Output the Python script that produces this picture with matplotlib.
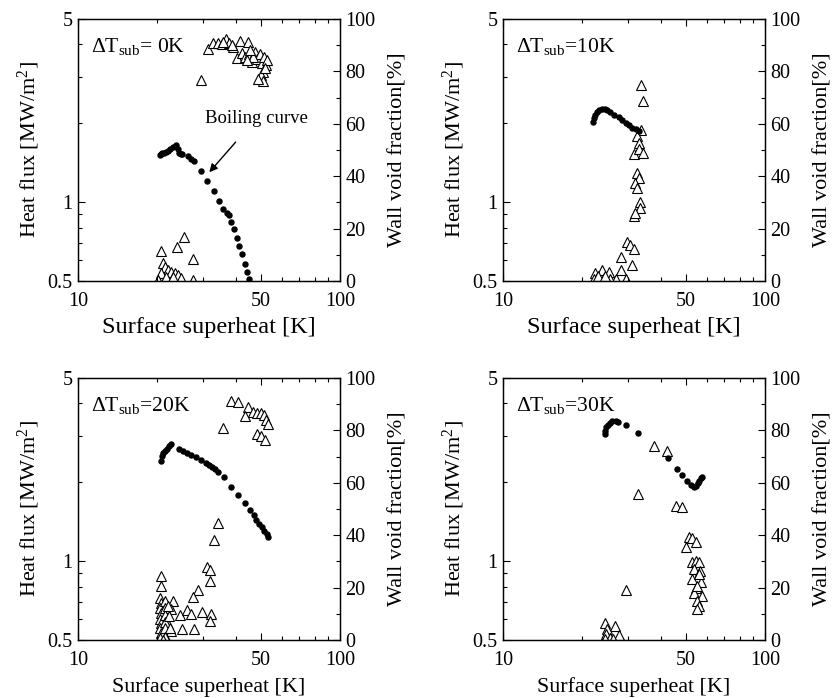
import matplotlib
matplotlib.use("Agg")
import matplotlib.pyplot as plt
from matplotlib.ticker import FixedLocator, NullFormatter

plt.rcParams['font.family'] = ['Liberation Serif', 'DejaVu Serif']
plt.rcParams['mathtext.fontset'] = 'custom'
plt.rcParams['mathtext.rm'] = 'Liberation Serif'
plt.rcParams['mathtext.it'] = 'Liberation Serif:italic'

# boiling curves: surface superheat [K] vs heat flux [MW/m2]
sub0_sh = [20.5, 20.8, 21.0, 21.3, 21.7, 22.0, 22.4, 23.1, 23.7, 24.1, 24.4, 24.8,
           25.0, 26.3, 27.1, 27.7, 29.6, 31.2, 33.0, 34.5, 35.8, 36.9, 37.6, 38.3,
           39.4, 40.4, 41.3, 42.3, 43.3, 44.2, 44.9]
sub0_q = [1.51, 1.53, 1.54, 1.54, 1.56, 1.57, 1.59, 1.63, 1.65, 1.60, 1.54, 1.52,
          1.53, 1.50, 1.46, 1.44, 1.31, 1.20, 1.10, 1.01, 0.94, 0.906, 0.893, 0.841,
          0.787, 0.728, 0.680, 0.632, 0.579, 0.543, 0.507]

sub10_sh = [22.1, 22.2, 22.5, 22.9, 23.3, 23.9, 24.5, 25.0, 25.7, 26.5, 27.7, 28.5,
            29.4, 30.2, 31.1, 32.1, 33.0]
sub10_q = [2.03, 2.09, 2.15, 2.20, 2.24, 2.26, 2.27, 2.25, 2.20, 2.15, 2.12, 2.06,
           2.01, 1.97, 1.92, 1.90, 1.87]

sub20_sh = [20.8, 20.9, 21.1, 21.4, 21.8, 22.2, 22.7, 24.3, 25.2, 26.1, 27.1, 28.3,
            29.6, 30.9, 31.6, 32.4, 33.3, 34.3, 36.2, 38.5, 40.9, 43.3, 45.3, 46.9,
            48.0, 48.9, 50.2, 51.2, 52.5, 53.3]
sub20_q = [2.41, 2.51, 2.58, 2.64, 2.68, 2.74, 2.79, 2.68, 2.64, 2.58, 2.54, 2.49,
           2.43, 2.36, 2.33, 2.29, 2.24, 2.18, 2.10, 1.92, 1.79, 1.66, 1.57, 1.50,
           1.43, 1.39, 1.35, 1.30, 1.27, 1.24]

sub30_sh = [24.5, 24.6, 24.8, 25.1, 25.6, 26.1, 26.9, 27.5, 29.4, 32.8, 42.5, 46.0,
            48.4, 50.6, 52.2, 53.7, 54.5, 55.3, 56.0, 56.8, 57.7]
sub30_q = [3.05, 3.15, 3.24, 3.31, 3.38, 3.42, 3.43, 3.40, 3.31, 3.08, 2.47, 2.25,
           2.13, 2.03, 1.95, 1.92, 1.94, 1.98, 2.03, 2.07, 2.09]

# wall void fraction [%]
sub0_vsh = [29.6, 31.4, 32.8, 34.3, 35.3, 36.7, 37.8, 39.1, 41.5, 44.6, 40.3, 42.1,
            43.3, 45.0, 46.0, 47.3, 48.1, 49.5, 50.2, 51.3, 52.2, 50.9, 49.8, 50.9,
            48.7, 52.5, 51.7, 46.7, 44.3, 45.3, 38.6, 35.8,
            25.4, 23.9, 20.8, 27.4, 21.1, 21.4, 22.1, 22.7, 23.4, 24.1, 24.8, 27.4,
            20.5, 20.8, 20.2, 21.7, 23.1]
sub0_void = [76.7, 88.4, 90.7, 91.0, 90.5, 92.2, 90.7, 89.4, 91.7, 91.3, 85.0, 86.9,
             85.4, 86.6, 83.7, 87.5, 84.6, 86.6, 83.1, 85.6, 82.4, 79.9, 78.6, 76.5,
             77.0, 84.4, 81.2, 85.6, 84.4, 88.2, 90.1, 91.3,
             16.9, 12.9, 11.6, 8.3, 6.8, 5.5, 4.2, 3.5, 2.9, 2.3, 1.0, 0.4,
             1.0, 2.9, 0.4, 1.6, 1.4]

sub10_vsh = [33.6, 34.3, 33.6, 32.6, 33.1, 31.6, 33.1, 34.1, 32.6, 33.1, 32.0, 32.6,
             33.2, 33.2, 31.6, 32.0, 29.8, 30.6, 31.6, 28.1, 31.2, 28.1, 29.4,
             23.9, 25.4, 22.5, 27.0, 22.9, 24.2, 22.2, 25.7, 23.0, 24.6]
sub10_void = [74.8, 68.7, 57.6, 55.3, 52.5, 48.5, 50.3, 48.7, 41.1, 39.2, 37.5, 35.4,
              30.3, 27.7, 24.8, 26.1, 15.0, 13.7, 12.1, 9.3, 6.1, 4.2, 0.6,
              4.2, 3.5, 2.9, 0.6, 1.0, 1.0, 0.6, 0.6, 2.0, 1.8]

sub20_vsh = [35.8, 38.3, 40.9, 44.6, 43.3, 46.6, 48.1, 49.9, 51.2, 52.2, 53.2, 48.1,
             49.9, 51.8, 34.3, 33.1,
             31.0, 31.8, 31.9, 20.8, 20.8, 28.8, 27.4, 23.1, 22.7, 24.5, 26.1, 27.1,
             29.8, 32.1, 31.8, 25.0, 27.7, 22.7, 22.1, 21.7,
             20.5, 20.7, 20.5, 20.8, 20.5, 20.8, 20.5, 20.8, 20.5, 21.4, 21.4, 21.4,
             21.4, 21.4, 21.4, 22.1, 22.2, 22.4, 21.1]
sub20_void = [81.1, 91.1, 90.8, 89.1, 85.6, 87.0, 86.8, 86.6, 86.0, 84.0, 82.4, 78.5,
              77.7, 76.4, 44.8, 38.1,
              27.7, 26.7, 22.6, 24.5, 20.7, 19.0, 16.5, 14.7, 11.8, 9.6, 11.4, 10.1,
              10.5, 9.8, 7.3, 4.1, 4.1, 3.4, 6.0, 0.9,
              16.0, 14.0, 12.1, 10.2, 8.2, 6.3, 4.4, 2.5, 0.6, 14.7, 12.1, 9.6,
              7.0, 4.4, 1.3, 12.8, 9.0, 4.4, 0.0]

sub30_vsh = [37.8, 42.2, 32.8, 45.9, 48.4, 29.4,
             49.9, 51.3, 52.8, 54.4, 52.8, 54.4, 56.1, 53.5, 56.5, 52.8, 56.9, 54.4,
             53.5, 57.7, 55.2, 56.1, 55.2, 56.1, 55.2,
             24.5, 26.8, 25.0, 27.6, 24.8, 25.7, 24.6, 26.3]
sub30_void = [74.2, 72.2, 55.9, 51.2, 50.6, 18.9,
              35.4, 39.2, 39.0, 37.3, 29.6, 30.3, 29.6, 27.1, 26.4, 23.3, 22.0, 20.0,
              18.1, 16.9, 14.9, 13.0, 11.8, 25.2, 20.7,
              6.4, 5.5, 4.2, 2.0, 2.2, 0.8, 0.3, 0.4]

panel_labels = [r'$\Delta\mathrm{T_{sub}}$= 0K', r'$\Delta\mathrm{T_{sub}}$=10K',
                r'$\Delta\mathrm{T_{sub}}$=20K', r'$\Delta\mathrm{T_{sub}}$=30K']

fig = plt.figure(figsize=(8.34, 6.98), dpi=100)

W, H = 834, 698
boxes = [(78, 19), (503, 19), (78, 378), (503, 378)]
panels = [(sub0_sh, sub0_q, sub0_vsh, sub0_void),
          (sub10_sh, sub10_q, sub10_vsh, sub10_void),
          (sub20_sh, sub20_q, sub20_vsh, sub20_void),
          (sub30_sh, sub30_q, sub30_vsh, sub30_void)]
# (x label size, y label size, x label pad)
label_fmt = [(17.5, 16, 4), (17.5, 16, 4), (15.8, 16, 5), (15.8, 16, 5)]

for i, ((px, py), (sh, q, vsh, vv)) in enumerate(zip(boxes, panels)):
    ax = fig.add_axes([px / W, 1 - (py + 262) / H, 262 / W, 262 / H])
    ax2 = ax.twinx()

    ax.plot(sh, q, 'o', color='black', ms=3.6, mec='black', zorder=3)
    ax2.plot(vsh, vv, '^', mfc='white', mec='black', mew=0.8, ms=7.5, zorder=2)
    ax.set_zorder(ax2.get_zorder() + 1)
    ax.patch.set_visible(False)

    ax.set_xscale('log')
    ax.set_yscale('log')
    ax.set_xlim(10, 100)
    ax.set_ylim(0.5, 5)
    ax2.set_ylim(0, 100)

    ax.xaxis.set_major_locator(FixedLocator([10, 50, 100]))
    ax.xaxis.set_minor_locator(FixedLocator([20, 30, 40, 60, 70, 80, 90]))
    ax.set_xticklabels(['10', '50', '100'])
    ax.xaxis.set_minor_formatter(NullFormatter())
    ax.yaxis.set_major_locator(FixedLocator([0.5, 1, 5]))
    ax.yaxis.set_minor_locator(FixedLocator([0.6, 0.7, 0.8, 0.9, 2, 3, 4]))
    ax.set_yticklabels(['0.5', '1', '5'])
    ax.yaxis.set_minor_formatter(NullFormatter())
    ax2.yaxis.set_major_locator(FixedLocator([0, 20, 40, 60, 80, 100]))
    ax2.yaxis.set_minor_locator(FixedLocator([10, 30, 50, 70, 90]))

    ax.tick_params(which='both', direction='in', top=True, right=False,
                   labelsize=14.5, width=0.8)
    ax.tick_params(which='major', length=5)
    ax.tick_params(which='minor', length=3)
    ax.tick_params(axis='x', which='major', pad=8)
    ax.tick_params(axis='y', which='major', pad=4)
    ax2.tick_params(which='both', direction='in', labelsize=14.5, width=0.8)
    ax2.tick_params(which='major', length=5, pad=4)
    ax2.tick_params(which='minor', length=3)

    for a in (ax, ax2):
        for s in a.spines.values():
            s.set_linewidth(0.9)

    xfs, yfs, xpad = label_fmt[i]
    ax.set_xlabel('Surface superheat [K]', fontsize=xfs, labelpad=xpad)
    ax.set_ylabel('Heat flux [MW/m$^2$]', fontsize=yfs, labelpad=4)
    ax2.set_ylabel('Wall void fraction[%]', fontsize=yfs, labelpad=9)

    ax.text(0.05, 0.895, panel_labels[i], transform=ax.transAxes,
            fontsize=15.5, va='center', ha='left')

    if i == 0:
        ax.annotate('Boiling curve', xy=(31.7, 1.30), xytext=(48.0, 2.09),
                    fontsize=13.5, ha='center', va='center',
                    arrowprops=dict(arrowstyle='-|>', color='black', lw=1.0,
                                    shrinkA=12, shrinkB=0, mutation_scale=12))

fig.savefig('out.png', dpi=100)
